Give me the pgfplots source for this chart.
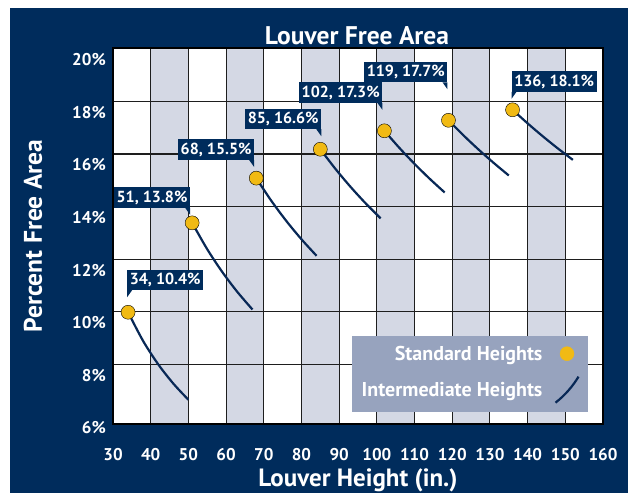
\documentclass[border=0pt]{standalone}
\usepackage{pgfplots}
\pgfplotsset{compat=1.18}
\usepackage{fontspec}
\setmainfont{PT Sans}
\definecolor{navybg}{RGB}{0,44,92}
\definecolor{bandgray}{RGB}{212,216,228}
\definecolor{legendgray}{RGB}{151,163,190}
\definecolor{dotyellow}{RGB}{241,186,20}
\definecolor{curvenavy}{RGB}{8,40,86}
\definecolor{gridc}{RGB}{30,30,30}
\tikzset{
  callout/.style={fill=navybg, text=white, font=\bfseries\fontsize{16bp}{16bp}\selectfont,
    inner xsep=2.5bp, inner ysep=3bp, text height=12bp, text depth=2.5bp},
  ticklab/.style={text=white, font=\bfseries\fontsize{17bp}{17bp}\selectfont, inner sep=0pt},
}
\begin{document}
\begin{tikzpicture}[x=1bp,y=1bp]
\fill[white] (0,0) rectangle (628,493);
\fill[navybg] (10,0) rectangle (628,485);
\fill[white] (113,69) rectangle (603,445);
\begin{axis}[
  at={(113bp,69bp)}, anchor=south west,
  width=490bp, height=376bp, scale only axis,
  xmin=30, xmax=160, ymin=6.15, ymax=20.45,
  clip=false, axis on top,
  xtick=\empty, ytick=\empty,
  axis line style={black, line width=1.4bp},
  legend plot pos=right, legend cell align=right,
  legend style={at={(rel axis cs:0.969,0.032)}, anchor=south east,
    fill=legendgray, draw=none,
    font=\color{white}\bfseries\fontsize{20bp}{20bp}\selectfont,
    inner xsep=8bp, inner ysep=8bp, row sep=12bp, column sep=10bp},
]
% background bands
\pgfplotsinvokeforeach{40,60,...,140}{
  \addplot[fill=bandgray, draw=none, forget plot] coordinates {(#1,6.15) (#1+10,6.15) (#1+10,20.45) (#1,20.45)};
}
% grid lines
\pgfplotsset{gridline/.style={gridc, line width=1.1bp, no marks, forget plot}}
\pgfplotsinvokeforeach{40,50,...,150}{\addplot[gridline] coordinates {(#1,6.15) (#1,20.45)};}
\pgfplotsinvokeforeach{8.42,10.42,12.42,14.42,16.42,18.42}{\addplot[gridline] coordinates {(30,#1) (160,#1)};}
% intermediate heights
\pgfplotsset{curve/.style={curvenavy, line width=2.2bp, smooth, no marks, forget plot}}
\addplot[curve] coordinates {(34,10.4) (38,9.305) (42,8.419) (46,7.687) (50,7.072)};
\addplot[curve] coordinates {(51,13.8) (55,12.796) (59,11.929) (63,11.171) (67,10.504)};
\addplot[curve] coordinates {(68,15.5) (72,14.639) (76,13.868) (80,13.175) (84,12.548)};
\addplot[curve] coordinates {(85,16.6) (89,15.854) (93,15.172) (97,14.546) (101,13.970)};
\addplot[curve] coordinates {(102,17.3) (106,16.647) (110,16.042) (114,15.479) (118,14.954)};
\addplot[curve] coordinates {(119,17.7) (123,17.124) (127,16.585) (131,16.079) (135,15.602)};
\addplot[curve] coordinates {(136,18.1) (140,17.583) (144,17.094) (148,16.632) (152,16.195)};
% standard heights
\addplot[only marks, mark=*, mark size=7bp, mark options={fill=dotyellow, draw=none}, forget plot]
  coordinates {(34,10.4) (51,13.8) (68,15.5) (85,16.6) (102,17.3) (119,17.7) (136,18.1)};
% legend
\addlegendimage{legend image code/.code={\path[draw=none,fill=none] (0bp,-8bp) rectangle (23bp,8bp); \fill[dotyellow] (11.5bp,0bp) circle (7bp);}}
\addlegendentry{Standard Heights}
\addlegendimage{legend image code/.code={\path[draw=none,fill=none] (0bp,-8bp) rectangle (23bp,8bp); \draw[curvenavy, line width=2.2bp] (0bp,-13bp) .. controls (9bp,-6bp) and (17bp,3bp) .. (23bp,13bp);}}
\addlegendentry{Intermediate Heights}
% callouts
\node[callout, anchor=south west, yshift=22bp, xshift=-1bp] (c1) at (axis cs:34,10.4) {34, 10.4\%};
\fill[navybg] (c1.south west) -- ++(0bp,-7bp) -- ++(5bp,7bp) -- cycle;
\node[callout, anchor=south east, yshift=15bp, xshift=-2bp] (c2) at (axis cs:51,13.8) {51, 13.8\%};
\fill[navybg] (c2.south east) -- ++(0bp,-7bp) -- ++(-5bp,7bp) -- cycle;
\node[callout, anchor=south east, yshift=18bp, xshift=-2bp] (c3) at (axis cs:68,15.5) {68, 15.5\%};
\fill[navybg] (c3.south east) -- ++(0bp,-7bp) -- ++(-5bp,7bp) -- cycle;
\node[callout, anchor=south east, yshift=20bp, xshift=1bp] (c4) at (axis cs:85,16.6) {85, 16.6\%};
\fill[navybg] (c4.south east) -- ++(0bp,-7bp) -- ++(-5bp,7bp) -- cycle;
\node[callout, anchor=south east, yshift=28bp, xshift=-2bp] (c5) at (axis cs:102,17.3) {102, 17.3\%};
\fill[navybg] (c5.south east) -- ++(0bp,-7bp) -- ++(-5bp,7bp) -- cycle;
\node[callout, anchor=south east, yshift=38bp, xshift=-1bp] (c6) at (axis cs:119,17.7) {119, 17.7\%};
\fill[navybg] (c6.south east) -- ++(0bp,-7bp) -- ++(-5bp,7bp) -- cycle;
\node[callout, anchor=south west, yshift=18bp, xshift=-1bp] (c7) at (axis cs:136,18.1) {136, 18.1\%};
\fill[navybg] (c7.south west) -- ++(0bp,-7bp) -- ++(5bp,7bp) -- cycle;
% tick labels
\pgfplotsinvokeforeach{6,8,...,20}{\node[ticklab, anchor=east, xshift=-7bp] at (axis cs:30,#1) {#1\%};}
\pgfplotsinvokeforeach{30,40,...,160}{\node[ticklab, anchor=center, yshift=-31bp] at (axis cs:#1,6.15) {#1};}
\end{axis}
\node[text=white, font=\bfseries\fontsize{25.5bp}{25.5bp}\selectfont, anchor=base, inner sep=0pt] at (357,448) {Louver Free Area};
\node[text=white, font=\bfseries\fontsize{25bp}{25bp}\selectfont, anchor=base, inner sep=0pt] at (358,6) {Louver Height (in.)};
\node[text=white, font=\bfseries\fontsize{25.5bp}{25.5bp}\selectfont, rotate=90, inner sep=0pt] at (33,257) {Percent Free Area};
\pgfresetboundingbox
\useasboundingbox (0,0) rectangle (628,493);
\end{tikzpicture}
\end{document}
